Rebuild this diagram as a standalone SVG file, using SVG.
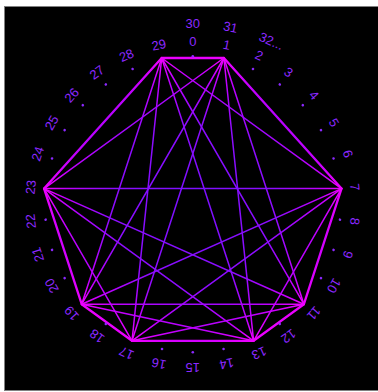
<svg xmlns="http://www.w3.org/2000/svg" width="378" height="392" viewBox="0 0 378 392">
<defs>
<radialGradient id="g" gradientUnits="userSpaceOnUse" cx="192.8" cy="204.2" r="150">
<stop offset="0" stop-color="#7a10ff"/>
<stop offset="0.55" stop-color="#8e0cff"/>
<stop offset="0.85" stop-color="#c000ff"/>
<stop offset="1" stop-color="#f000ff"/>
</radialGradient>
<style>
.l{font-family:"Liberation Sans",Arial,sans-serif;font-size:13px;fill:#8c28ff;text-anchor:middle;dominant-baseline:central}
.d{fill:#8c28ff}
.e line{stroke:url(#g);stroke-width:1.5;stroke-linecap:round}
.e line.o{stroke-width:2.3}
</style>
</defs>
<rect x="0" y="0" width="378" height="392" fill="#ffffff"/>
<rect x="4.5" y="6.5" width="380" height="384" fill="#000000" stroke="#808080" stroke-width="1"/>
<g id="connectors" class="e">
<line class="o" x1="161.7" y1="58" x2="223.9" y2="58"/>
<line class="o" x1="223.9" y1="58" x2="341.5" y2="188.6"/>
<line class="o" x1="341.5" y1="188.6" x2="303.9" y2="304.2"/>
<line class="o" x1="303.9" y1="304.2" x2="253.6" y2="340.8"/>
<line class="o" x1="253.6" y1="340.8" x2="132" y2="340.8"/>
<line class="o" x1="132" y1="340.8" x2="81.7" y2="304.2"/>
<line class="o" x1="81.7" y1="304.2" x2="44.1" y2="188.6"/>
<line class="o" x1="44.1" y1="188.6" x2="161.7" y2="58"/>
<line x1="161.7" y1="58" x2="341.5" y2="188.6"/>
<line x1="161.7" y1="58" x2="303.9" y2="304.2"/>
<line x1="161.7" y1="58" x2="253.6" y2="340.8"/>
<line x1="161.7" y1="58" x2="132" y2="340.8"/>
<line x1="161.7" y1="58" x2="81.7" y2="304.2"/>
<line x1="223.9" y1="58" x2="303.9" y2="304.2"/>
<line x1="223.9" y1="58" x2="253.6" y2="340.8"/>
<line x1="223.9" y1="58" x2="132" y2="340.8"/>
<line x1="223.9" y1="58" x2="81.7" y2="304.2"/>
<line x1="223.9" y1="58" x2="44.1" y2="188.6"/>
<line x1="341.5" y1="188.6" x2="253.6" y2="340.8"/>
<line x1="341.5" y1="188.6" x2="132" y2="340.8"/>
<line x1="341.5" y1="188.6" x2="81.7" y2="304.2"/>
<line x1="341.5" y1="188.6" x2="44.1" y2="188.6"/>
<line x1="303.9" y1="304.2" x2="132" y2="340.8"/>
<line x1="303.9" y1="304.2" x2="81.7" y2="304.2"/>
<line x1="303.9" y1="304.2" x2="44.1" y2="188.6"/>
<line x1="253.6" y1="340.8" x2="81.7" y2="304.2"/>
<line x1="253.6" y1="340.8" x2="44.1" y2="188.6"/>
<line x1="132" y1="340.8" x2="44.1" y2="188.6"/>
</g>
<g id="dots">
<circle class="d" cx="192.8" cy="56.2" r="1.3" transform="rotate(0 192.8 204.2)"/>
<circle class="d" cx="192.8" cy="56.2" r="1.3" transform="rotate(24 192.8 204.2)"/>
<circle class="d" cx="192.8" cy="56.2" r="1.3" transform="rotate(36 192.8 204.2)"/>
<circle class="d" cx="192.8" cy="56.2" r="1.3" transform="rotate(48 192.8 204.2)"/>
<circle class="d" cx="192.8" cy="56.2" r="1.3" transform="rotate(60 192.8 204.2)"/>
<circle class="d" cx="192.8" cy="56.2" r="1.3" transform="rotate(72 192.8 204.2)"/>
<circle class="d" cx="192.8" cy="56.2" r="1.3" transform="rotate(96 192.8 204.2)"/>
<circle class="d" cx="192.8" cy="56.2" r="1.3" transform="rotate(108 192.8 204.2)"/>
<circle class="d" cx="192.8" cy="56.2" r="1.3" transform="rotate(120 192.8 204.2)"/>
<circle class="d" cx="192.8" cy="56.2" r="1.3" transform="rotate(144 192.8 204.2)"/>
<circle class="d" cx="192.8" cy="56.2" r="1.3" transform="rotate(168 192.8 204.2)"/>
<circle class="d" cx="192.8" cy="56.2" r="1.3" transform="rotate(180 192.8 204.2)"/>
<circle class="d" cx="192.8" cy="56.2" r="1.3" transform="rotate(192 192.8 204.2)"/>
<circle class="d" cx="192.8" cy="56.2" r="1.3" transform="rotate(216 192.8 204.2)"/>
<circle class="d" cx="192.8" cy="56.2" r="1.3" transform="rotate(240 192.8 204.2)"/>
<circle class="d" cx="192.8" cy="56.2" r="1.3" transform="rotate(252 192.8 204.2)"/>
<circle class="d" cx="192.8" cy="56.2" r="1.3" transform="rotate(264 192.8 204.2)"/>
<circle class="d" cx="192.8" cy="56.2" r="1.3" transform="rotate(288 192.8 204.2)"/>
<circle class="d" cx="192.8" cy="56.2" r="1.3" transform="rotate(300 192.8 204.2)"/>
<circle class="d" cx="192.8" cy="56.2" r="1.3" transform="rotate(312 192.8 204.2)"/>
<circle class="d" cx="192.8" cy="56.2" r="1.3" transform="rotate(324 192.8 204.2)"/>
<circle class="d" cx="192.8" cy="56.2" r="1.3" transform="rotate(336 192.8 204.2)"/>
</g>
<g id="labels">
<text class="l" x="192.8" y="41.2" transform="rotate(0 192.8 204.2)">0</text>
<g id="n1"><text class="l" x="192.8" y="41.2" transform="rotate(12 192.8 204.2)">1</text></g>
<text class="l" x="192.8" y="41.2" transform="rotate(24 192.8 204.2)">2</text>
<text class="l" x="192.8" y="41.2" transform="rotate(36 192.8 204.2)">3</text>
<text class="l" x="192.8" y="41.2" transform="rotate(48 192.8 204.2)">4</text>
<text class="l" x="192.8" y="41.2" transform="rotate(60 192.8 204.2)">5</text>
<text class="l" x="192.8" y="41.2" transform="rotate(72 192.8 204.2)">6</text>
<g id="n7"><text class="l" x="192.8" y="41.2" transform="rotate(84 192.8 204.2)">7</text></g>
<text class="l" x="192.8" y="41.2" transform="rotate(96 192.8 204.2)">8</text>
<text class="l" x="192.8" y="41.2" transform="rotate(108 192.8 204.2)">9</text>
<text class="l" x="192.8" y="41.2" transform="rotate(120 192.8 204.2)">10</text>
<g id="n11"><text class="l" x="192.8" y="41.2" transform="rotate(132 192.8 204.2)">11</text></g>
<text class="l" x="192.8" y="41.2" transform="rotate(144 192.8 204.2)">12</text>
<g id="n13"><text class="l" x="192.8" y="41.2" transform="rotate(156 192.8 204.2)">13</text></g>
<text class="l" x="192.8" y="41.2" transform="rotate(168 192.8 204.2)">14</text>
<text class="l" x="192.8" y="41.2" transform="rotate(180 192.8 204.2)">15</text>
<text class="l" x="192.8" y="41.2" transform="rotate(192 192.8 204.2)">16</text>
<g id="n17"><text class="l" x="192.8" y="41.2" transform="rotate(204 192.8 204.2)">17</text></g>
<text class="l" x="192.8" y="41.2" transform="rotate(216 192.8 204.2)">18</text>
<g id="n19"><text class="l" x="192.8" y="41.2" transform="rotate(228 192.8 204.2)">19</text></g>
<text class="l" x="192.8" y="41.2" transform="rotate(240 192.8 204.2)">20</text>
<text class="l" x="192.8" y="41.2" transform="rotate(252 192.8 204.2)">21</text>
<text class="l" x="192.8" y="41.2" transform="rotate(264 192.8 204.2)">22</text>
<g id="n23"><text class="l" x="192.8" y="41.2" transform="rotate(276 192.8 204.2)">23</text></g>
<text class="l" x="192.8" y="41.2" transform="rotate(288 192.8 204.2)">24</text>
<text class="l" x="192.8" y="41.2" transform="rotate(300 192.8 204.2)">25</text>
<text class="l" x="192.8" y="41.2" transform="rotate(312 192.8 204.2)">26</text>
<text class="l" x="192.8" y="41.2" transform="rotate(324 192.8 204.2)">27</text>
<text class="l" x="192.8" y="41.2" transform="rotate(336 192.8 204.2)">28</text>
<g id="n29"><text class="l" x="192.8" y="41.2" transform="rotate(348 192.8 204.2)">29</text></g>
<text class="l" x="192.8" y="23.2" transform="rotate(0 192.8 204.2)">30</text>
<text class="l" x="192.8" y="23.2" transform="rotate(12 192.8 204.2)">31</text>
<text class="l" x="185.6" y="23.2" style="text-anchor:start" transform="rotate(24 192.8 204.2)">32...</text>
</g>
</svg>
